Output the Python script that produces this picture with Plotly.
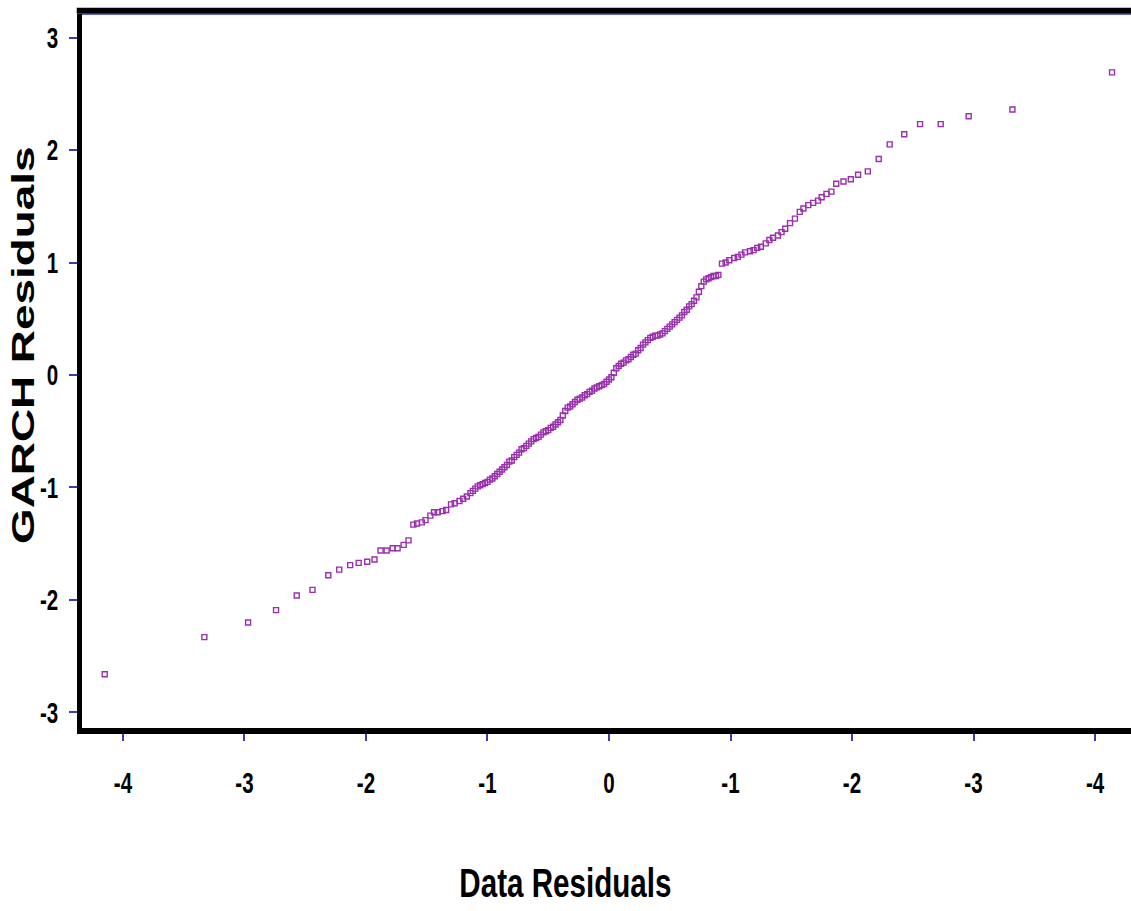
import plotly.graph_objects as go

# Theoretical quantiles (x) against ordered GARCH residuals (y)
data_resid = [
    -4.15, -3.33, -2.97, -2.74, -2.57, -2.44, -2.31, -2.22, -2.13, -2.06,
    -1.99, -1.93, -1.88, -1.83, -1.78, -1.74, -1.69, -1.65, -1.61, -1.58,
    -1.54, -1.51, -1.47, -1.44, -1.41, -1.37, -1.34, -1.30, -1.27, -1.23,
    -1.20, -1.17,
    -1.14, -1.12, -1.10, -1.08, -1.06, -1.04, -1.02, -1.00, -0.98, -0.96,
    -0.94, -0.92, -0.90, -0.88, -0.86, -0.84, -0.82, -0.80, -0.78, -0.76,
    -0.74, -0.72, -0.70, -0.68, -0.66, -0.64, -0.62, -0.60, -0.58, -0.56,
    -0.54, -0.52, -0.50, -0.48, -0.46, -0.44, -0.42, -0.40, -0.38, -0.36,
    -0.34, -0.32, -0.30, -0.28, -0.26, -0.24, -0.22, -0.20, -0.18, -0.16,
    -0.14, -0.12, -0.10, -0.08, -0.06, -0.04, -0.02, 0.00, 0.02, 0.04,
    0.06, 0.08, 0.10, 0.12, 0.14, 0.16, 0.18, 0.20, 0.22, 0.24,
    0.26, 0.28, 0.30, 0.32, 0.34, 0.36, 0.38, 0.40, 0.42, 0.44,
    0.46, 0.48, 0.50, 0.52, 0.54, 0.56, 0.58, 0.60, 0.62, 0.64,
    0.66, 0.68, 0.70, 0.72, 0.74, 0.76, 0.78, 0.80, 0.82, 0.84,
    0.86, 0.88, 0.90,
    0.93, 0.96, 0.99, 1.03, 1.06, 1.09, 1.12, 1.16, 1.19, 1.22,
    1.25, 1.29, 1.32, 1.35, 1.39, 1.42, 1.45, 1.49, 1.53, 1.57,
    1.60, 1.64, 1.68, 1.72, 1.75, 1.79, 1.83,
    1.87, 1.93, 1.99, 2.05, 2.13, 2.22, 2.31, 2.43, 2.56, 2.73,
    2.96, 3.32, 4.14,
]

garch_resid = [
    -2.66, -2.33, -2.20, -2.09, -1.96, -1.91, -1.78, -1.73, -1.69, -1.67,
    -1.66, -1.64, -1.56, -1.56, -1.54, -1.54, -1.51, -1.47, -1.33, -1.32,
    -1.31, -1.29, -1.25, -1.22, -1.22, -1.21, -1.20, -1.15, -1.14, -1.12,
    -1.10, -1.08,
    -1.05, -1.03, -1.01, -0.99, -0.98, -0.97, -0.96, -0.95, -0.93, -0.92,
    -0.90, -0.88, -0.86, -0.84, -0.82, -0.80, -0.77, -0.76, -0.73, -0.71,
    -0.69, -0.66, -0.65, -0.63, -0.61, -0.59, -0.57, -0.56, -0.55, -0.53,
    -0.51, -0.50, -0.49, -0.47, -0.46, -0.44, -0.42, -0.40, -0.36, -0.32,
    -0.29, -0.28, -0.26, -0.24, -0.22, -0.21, -0.20, -0.18, -0.17, -0.15,
    -0.14, -0.12, -0.11, -0.10, -0.09, -0.08, -0.06, -0.04, -0.02, 0.02,
    0.06, 0.08, 0.10, 0.11, 0.13, 0.14, 0.16, 0.18, 0.19, 0.22,
    0.24, 0.27, 0.29, 0.31, 0.33, 0.34, 0.35, 0.35, 0.36, 0.37,
    0.39, 0.41, 0.43, 0.45, 0.47, 0.49, 0.51, 0.53, 0.56, 0.58,
    0.61, 0.63, 0.66, 0.69, 0.74, 0.79, 0.83, 0.85, 0.86, 0.87,
    0.88, 0.88, 0.89,
    0.99, 1.00, 1.02, 1.04, 1.05, 1.07, 1.09, 1.10, 1.11, 1.13,
    1.14, 1.17, 1.20, 1.22, 1.24, 1.27, 1.30, 1.35, 1.39, 1.45,
    1.48, 1.51, 1.53, 1.55, 1.58, 1.61, 1.63,
    1.70, 1.72, 1.74, 1.78, 1.81, 1.92, 2.05, 2.14, 2.23, 2.23,
    2.30, 2.36, 2.69,
]

x_tickvals = [-4, -3, -2, -1, 0, 1, 2, 3, 4]
x_ticktext = ["-4", "-3", "-2", "-1", "0", "-1", "-2", "-3", "-4"]
y_tickvals = [-3, -2, -1, 0, 1, 2, 3]
y_ticktext = ["-3", "-2", "-1", "0", "1", "2", "3"]

FONT = "Liberation Sans, Arial, sans-serif"
TICK_BLUE = "#3d3daa"
MARK = "#9a2fae"

fig = go.Figure()
fig.add_trace(go.Scatter(
    x=data_resid, y=garch_resid, mode="markers",
    marker=dict(symbol="square-open", size=5, color=MARK, line=dict(width=1.4, color=MARK)),
    hoverinfo="skip", showlegend=False,
))

fig.update_layout(
    width=1131, height=911,
    margin=dict(l=82, r=0, t=14, b=183),
    paper_bgcolor="white", plot_bgcolor="white",
    xaxis=dict(
        range=[-4.337, 4.296], tickvals=x_tickvals, ticktext=x_ticktext,
        showgrid=False, zeroline=False,
        showline=True, linecolor="black", linewidth=6,
        ticks="outside", ticklen=7, tickwidth=1.5, tickcolor=TICK_BLUE,
        ticklabelstandoff=17,
        tickfont=dict(family=FONT, size=29, color="black", weight="bold"),
    ),
    yaxis=dict(
        range=[-3.138, 3.209], tickvals=y_tickvals, ticktext=y_ticktext,
        showgrid=False, zeroline=False,
        showline=True, linecolor="black", linewidth=5,
        ticks="outside", ticklen=8, tickwidth=2, tickcolor=TICK_BLUE,
        ticklabelstandoff=5,
        tickfont=dict(family=FONT, size=29, color="black", weight="bold"),
    ),
    shapes=[
        dict(type="line", xref="paper", yref="paper", x0=-0.005, x1=1, y0=1.0045, y1=1.0045,
             line=dict(color="black", width=6)),
        dict(type="line", xref="paper", yref="paper", x0=0, x1=1, y0=1.0, y1=1.0,
             line=dict(color="#2e2ea0", width=1.5)),
    ],
    annotations=[
        dict(text="<b>Data Residuals</b>", xref="paper", yref="paper",
             x=(565 - 82) / 1049, y=-(887 - 731) / 717, xanchor="center", yanchor="middle",
             showarrow=False, font=dict(family=FONT, size=40, color="black")),
        dict(text="<b>GARCH Residuals</b>", xref="paper", yref="paper",
             x=-(82 - 24) / 1049, y=(731 - 347) / 717, xanchor="center", yanchor="middle",
             textangle=-90, showarrow=False,
             font=dict(family=FONT, size=31, color="black")),
    ],
)

# Condensed lettering: scale each label along its own baseline about its anchor point.
post_js = """
var gd = document.getElementById('{plot_id}');
function stretch(nodes, s) {
  nodes.forEach(function (el) {
    var base = el.getAttribute('transform') || '';
    if (el.dataset.stretched && el.dataset.stretched === base) { return; }
    var ax = parseFloat(el.getAttribute('x')) || 0;
    var t = base + ' translate(' + ax + ',0) scale(' + s + ',1) translate(' + (-ax) + ',0)';
    el.setAttribute('transform', t);
    el.dataset.stretched = t;
  });
}
function applyStretch() {
  stretch(gd.querySelectorAll('.xtick text'), 0.71);
  stretch(gd.querySelectorAll('.ytick text'), 0.71);
  var ann = gd.querySelectorAll('.annotation-text');
  if (ann.length > 0) { stretch([ann[0]], 0.74); }
  if (ann.length > 1) { stretch([ann[1]], 1.48); }
}
applyStretch();
gd.on('plotly_afterplot', applyStretch);
"""

fig.write_html("out.html", post_script=post_js)
